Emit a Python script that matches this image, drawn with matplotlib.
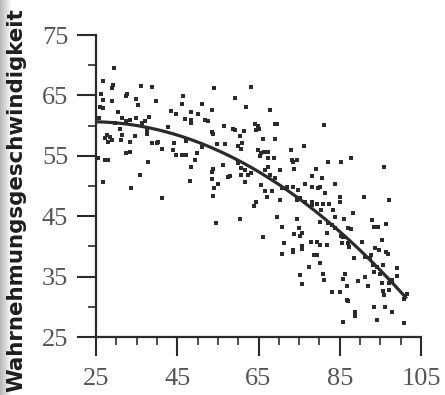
import numpy as np
import matplotlib
matplotlib.use("Agg")
import matplotlib.pyplot as plt
from matplotlib.ticker import MultipleLocator

plt.rcParams["font.family"] = ["Liberation Serif", "DejaVu Serif"]

# (age, perceptual speed) observations, grouped by age band
band_25_52 = [
    (29.5, 69.5), (26.6, 67.4), (29.3, 66.7), (28.9, 66.2), (36.0, 66.6), (38.9, 66.4),
    (26.2, 65.3), (32.7, 65.3), (32.4, 64.9), (34.8, 64.4), (26.6, 64.3), (29.0, 64.1),
    (39.7, 64.1), (46.3, 64.9), (46.2, 63.5), (51.0, 63.6), (26.0, 63.1), (26.6, 62.9),
    (35.4, 63.4), (30.3, 62.2), (43.5, 62.5), (44.8, 62.0), (48.3, 62.3), (50.0, 62.0),
    (46.8, 61.1), (48.5, 60.9), (48.5, 60.4), (51.8, 60.9), (25.7, 61.2), (38.1, 61.4),
    (34.8, 61.2), (31.3, 61.2), (32.5, 60.7), (33.4, 60.9), (37.05, 60.7), (36.2, 60.4),
    (42.8, 59.8), (29.7, 60.4), (30.9, 59.5), (27.6, 58.4), (28.4, 58.1), (28.9, 57.6),
    (27.2, 57.9), (28.0, 57.3), (31.3, 58.4), (31.1, 57.6), (33.4, 57.3), (34.6, 58.3),
    (37.5, 58.6), (37.5, 59.3), (38.7, 57.1), (39.9, 57.1), (40.3, 57.3), (41.3, 56.1),
    (44.3, 57.2), (47.1, 57.45), (44.0, 56.0), (44.8, 55.2), (46.2, 55.1), (47.1, 55.1),
    (49.8, 55.5), (51.0, 56.4), (49.4, 54.3), (33.4, 55.7), (32.4, 55.4), (25.6, 54.6),
    (27.2, 54.3), (28.0, 54.3), (37.7, 53.9), (48.5, 53.2), (35.8, 51.8), (26.6, 50.7),
    (48.1, 50.9), (33.6, 49.6), (41.2, 48.0),
]

band_52_78 = [
    (54.0, 66.2), (63.1, 66.4), (59.2, 64.5), (61.8, 63.0), (53.5, 62.6), (67.8, 62.6),
    (52.5, 60.8), (53.5, 59.0), (53.9, 58.6), (56.6, 59.9), (58.8, 59.5), (59.3, 59.2),
    (61.5, 59.1), (64.1, 60.3), (64.8, 59.9), (64.5, 59.2), (65.1, 59.4), (69.0, 60.3),
    (69.5, 60.2), (66.2, 57.8), (69.0, 57.7), (60.4, 58.2), (61.0, 57.1), (60.0, 56.6),
    (60.7, 56.1), (54.9, 56.9), (56.7, 56.9), (64.9, 56.0), (65.7, 55.4), (66.4, 55.6),
    (67.4, 55.7), (65.3, 54.9), (67.4, 54.6), (68.9, 54.6), (73.1, 56.0), (76.2, 56.6),
    (73.3, 54.3), (74.4, 54.3), (73.5, 54.0), (53.9, 52.8), (53.5, 52.3), (56.3, 53.4),
    (58.0, 51.7), (57.4, 51.5), (60.0, 53.75), (60.7, 52.9), (61.6, 52.65), (60.8, 51.8),
    (62.5, 51.8), (63.1, 52.1), (67.4, 53.2), (66.6, 52.65), (70.3, 52.65), (73.8, 52.8),
    (78.1, 51.7), (53.6, 51.1), (54.1, 49.6), (55.1, 50.3), (61.6, 50.7), (65.7, 50.2),
    (67.8, 51.8), (69.0, 51.3), (70.7, 49.6), (71.9, 49.9), (73.5, 49.9), (76.4, 50.3),
    (66.6, 49.2), (68.2, 49.1), (74.8, 49.3), (78.1, 49.9),
]

band_mid_low = [
    (81.2, 60.1), (82.0, 54.0), (85.3, 53.9), (87.8, 54.7), (96.0, 53.2), (79.1, 52.8),
    (80.7, 51.4), (83.8, 50.3), (80.1, 49.9), (79.6, 49.7), (81.4, 48.9),
    (53.9, 48.4), (64.5, 47.3), (64.0, 46.7), (67.2, 48.1), (70.4, 47.6), (54.5, 43.8),
    (60.5, 44.5), (69.6, 44.9), (74.5, 44.5), (70.8, 43.2), (75.0, 43.0), (75.6, 42.3),
    (73.7, 42.0), (75.2, 41.8), (66.1, 41.5), (71.3, 40.6), (77.9, 40.7), (73.4, 39.4),
    (73.4, 39.0), (75.6, 40.0), (75.6, 39.6), (70.8, 38.7), (78.7, 38.6), (77.5, 36.6),
    (75.2, 35.3), (75.8, 33.8), (76.4, 47.4), (78.1, 46.9), (74.4, 47.7), (75.2, 48.0),
    (78.1, 47.4),
]

band_78_102 = [
    (85.1, 48.2), (85.1, 47.4), (91.0, 48.1), (97.0, 47.7), (79.3, 47.1), (80.95, 47.0),
    (82.3, 47.0), (80.5, 46.0), (83.4, 46.0), (88.3, 45.5), (83.8, 44.9), (86.1, 44.5),
    (80.1, 44.1), (82.2, 43.8), (83.0, 43.5), (93.0, 44.4), (93.5, 43.2), (94.5, 43.2),
    (96.3, 43.7), (87.1, 43.0), (87.8, 42.8), (81.8, 42.3), (85.3, 41.8), (85.9, 41.6),
    (95.3, 41.1), (79.3, 40.8), (80.1, 40.3), (81.8, 40.2), (85.5, 40.5), (87.1, 40.5),
    (87.3, 39.9), (90.4, 40.7), (93.7, 39.8), (94.7, 39.4), (96.3, 39.0), (96.8, 38.7),
    (88.6, 38.1), (92.8, 38.6), (92.4, 38.1), (79.3, 38.5), (80.1, 37.2), (94.1, 36.6),
    (95.7, 36.9), (99.2, 36.5), (86.4, 35.5), (93.5, 35.8), (94.9, 35.4), (80.95, 35.4),
    (81.2, 34.4), (85.9, 34.6), (91.2, 35.0), (89.6, 34.3), (99.0, 35.1), (86.7, 33.5),
    (91.9, 33.5), (95.3, 34.0), (97.0, 34.0), (97.9, 34.05), (83.0, 32.4), (85.1, 32.4),
    (95.7, 32.6), (97.1, 32.8), (96.0, 31.95), (101.5, 32.2), (86.7, 31.1), (87.1, 30.9),
    (100.9, 31.3), (93.5, 30.0), (96.1, 30.0), (97.8, 29.1), (88.7, 29.2), (88.7, 28.5),
    (85.9, 27.5), (94.1, 27.8), (100.9, 27.4), (83.8, 43.0), (91.2, 38.3), (93.3, 36.9),
    (97.8, 34.4),
]

x_ticks = [25, 45, 65, 85, 105]
y_ticks = [25, 35, 45, 55, 65, 75]
y_label = "Wahrnehmungsgeschwindigkeit"

points = np.array(band_25_52 + band_52_78 + band_mid_low + band_78_102)
age, speed = points[:, 0], points[:, 1]

# quadratic trend through the observations
coef = np.polyfit(age, speed, 2)
trend_x = np.linspace(25, age.max(), 200)
trend_y = np.polyval(coef, trend_x)

ink = "#2b2b2b"
W, H = 445, 395
fig = plt.figure(figsize=(W / 100, H / 100), dpi=100)

# page gutter shading on the left edge
gut = fig.add_axes([0, 0, 12 / W, 1], zorder=-5)
grad = np.linspace(0.72, 1.0, 64)[None, :]
gut.imshow(grad, aspect="auto", cmap="gray", vmin=0, vmax=1,
           extent=[0, 1, 0, 1])
gut.axis("off")

ax = fig.add_axes([96 / W, 58 / H, 325 / W, 302 / H])
ax.set_facecolor("none")
ax.scatter(age, speed, marker="s", s=9, color=ink, linewidths=0, zorder=3,
           clip_on=False)
ax.plot(trend_x, trend_y, color=ink, lw=2.3, zorder=4, solid_capstyle="butt")

ax.set_xlim(25, 105)
ax.set_ylim(25, 75)
for side in ("top", "right"):
    ax.spines[side].set_visible(False)
for side in ("left", "bottom"):
    ax.spines[side].set_linewidth(1.6)
    ax.spines[side].set_color(ink)

ax.set_xticks(x_ticks)
ax.set_yticks(y_ticks)
ax.xaxis.set_minor_locator(MultipleLocator(5))
ax.yaxis.set_minor_locator(MultipleLocator(5))
ax.tick_params(which="major", direction="out", length=14, width=1.5, color=ink)
ax.tick_params(which="minor", direction="out", length=6, width=1.2, color=ink)
ax.tick_params(axis="y", which="major", labelsize=19, pad=6, labelcolor="#555555")
ax.tick_params(axis="x", which="major", labelsize=19, pad=8, labelcolor="#555555")

fig.text(16 / W, 0.494, y_label, rotation=90, ha="center", va="center",
         fontsize=15.4, fontweight="bold", family="DejaVu Sans", color="#1e1e1e")

fig.savefig("out.png", dpi=100)
